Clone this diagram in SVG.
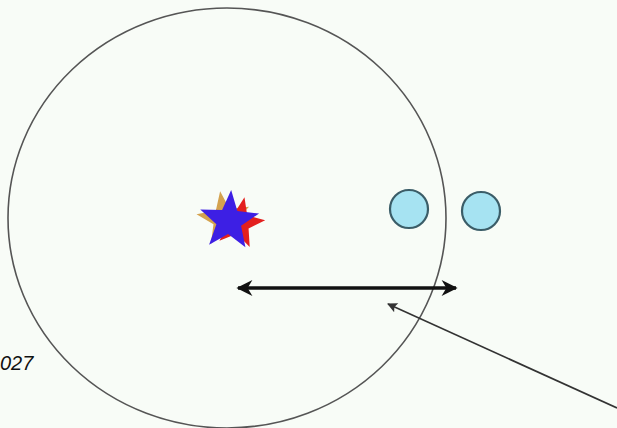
<svg xmlns="http://www.w3.org/2000/svg" width="617" height="428" viewBox="0 0 617 428">
<style>
.ring{fill:none;stroke:#555;stroke-width:1.6}
.ball{fill:#a6e3f2;stroke:#3b5d68;stroke-width:2.2}
.dbl{stroke:#111;stroke-width:3.5;fill:none}
.ptr{stroke:#333;stroke-width:1.6;fill:none}
.lbl{font-family:"Liberation Sans",Arial,sans-serif;font-style:italic;font-size:20px;fill:#111}
</style>
<defs>
<path id="star" d="M0,-31 L7.64,-10.52 L29.48,-9.58 L12.36,4.02 L18.22,25.08 L0,13 L-18.22,25.08 L-12.36,4.02 L-29.48,-9.58 L-7.64,-10.52 Z"/>
<marker id="hd" viewBox="0 0 10 10" refX="9" refY="5" markerWidth="20" markerHeight="16" markerUnits="userSpaceOnUse" orient="auto-start-reverse">
<path d="M0,0 L10,5 L0,10 L3,5 Z" fill="#111"/>
</marker>
<marker id="hp" viewBox="0 0 10 10" refX="9" refY="5" markerWidth="16" markerHeight="10" markerUnits="userSpaceOnUse" orient="auto">
<path d="M0,0 L10,5 L0,10 L2,5 Z" fill="#333"/>
</marker>
</defs>
<rect width="617" height="428" fill="#f8fcf7"/>
<g id="bigcircle"><ellipse class="ring" cx="227" cy="218" rx="219" ry="210"/></g>
<g id="star-group">
<use href="#star" transform="translate(224,219) rotate(-8) scale(0.9)" fill="#d4a24e"/>
<use href="#star" transform="translate(239,223) rotate(12) scale(0.85)" fill="#e3201e"/>
<use href="#star" transform="translate(229,221) rotate(4)" fill="#3d1fe4"/>
</g>
<g id="ball1"><circle class="ball" cx="409" cy="209" r="19"/></g>
<g id="ball2"><circle class="ball" cx="481" cy="211" r="19"/></g>
<g id="label"><text class="lbl" x="0" y="370">027</text></g>
<g id="connectors">
<line class="dbl" x1="238" y1="288" x2="456" y2="288" marker-start="url(#hd)" marker-end="url(#hd)"/>
<line class="ptr" x1="617" y1="408" x2="388" y2="304" marker-end="url(#hp)"/>
</g>
</svg>
